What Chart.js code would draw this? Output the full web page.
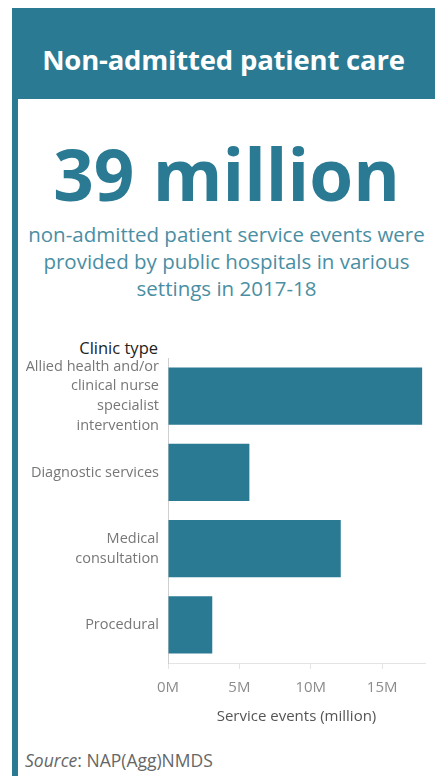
<!DOCTYPE html>
<html>
<head>
<meta charset="utf-8">
<script src="https://cdn.jsdelivr.net/npm/chart.js@4/dist/chart.umd.min.js"></script>
<style>
  html, body { margin: 0; padding: 0; background: #fff; }
  body { width: 435px; height: 776px; position: relative; overflow: hidden; font-family: "Open Sans", sans-serif; }
  #header { position: absolute; left: 12px; top: 8px; width: 423px; height: 91px; background: #2a7a93; }
  #header h1 { margin: 0; position: absolute; left: 0; right: 0; top: 36px; text-align: center; color: #fff; font-size: 27.5px; font-weight: 700; line-height: 32px; letter-spacing: -0.2px; }
  #strip { position: absolute; left: 12px; top: 99px; width: 6px; height: 677px; background: #2a7a93; }
  #big { position: absolute; left: 18px; right: 0; top: 129px; text-align: center; color: #2a7a93; font-size: 71px; font-weight: 700; line-height: 90px; }
  #sub { position: absolute; left: 18px; right: 0; top: 221px; text-align: center; color: #4a8ea3; font-size: 20.5px; line-height: 27px; }
  #clinic { position: absolute; right: 277px; top: 337px; color: #222; font-size: 16.5px; line-height: 22px; }
  #source { position: absolute; left: 25px; top: 749px; color: #666; font-size: 17.5px; line-height: 22px; }
  #wrap { position: absolute; left: 0; top: 350px; width: 435px; height: 377px; }
</style>
</head>
<body>
<div id="header"><h1>Non-admitted patient care</h1></div>
<div id="strip"></div>
<div id="big">39 million</div>
<div id="sub">non-admitted patient service events were<br>provided by public hospitals in various<br>settings in 2017-18</div>
<div id="clinic">Clinic type</div>
<div id="wrap"><canvas id="c"></canvas></div>
<div id="source"><i>Source</i>: NAP(Agg)NMDS</div>
<script>
// Clinic types (multi-line labels) and service events in millions, 2017-18
const clinicTypes = [
  ["Allied health and/or", "clinical nurse", "specialist", "intervention"],
  "Diagnostic services",
  ["Medical", "consultation"],
  "Procedural"
];
const serviceEvents = [17.8, 5.7, 12.1, 3.1];
const xTickValues = [0, 5, 10, 15];

const teal = "#2a7a93";

new Chart(document.getElementById("c"), {
  type: "bar",
  data: {
    labels: clinicTypes,
    datasets: [{
      data: serviceEvents,
      backgroundColor: teal,
      borderWidth: 0,
      barPercentage: 0.75,
      categoryPercentage: 1
    }]
  },
  options: {
    indexAxis: "y",
    responsive: true,
    maintainAspectRatio: false,
    animation: false,
    layout: { padding: { top: 8, right: 10, bottom: 0, left: 0 } },
    plugins: { legend: { display: false }, tooltip: { enabled: false } },
    scales: {
      x: {
        min: 0,
        max: 18,
        afterBuildTicks: (scale) => { scale.ticks = xTickValues.map(v => ({ value: v })); },
        afterFit: (scale) => { scale.height = 64; scale.paddingLeft = 0; scale.paddingRight = 0; },
        grid: { drawOnChartArea: false, drawTicks: true, tickLength: 6, color: "#e4e4e4" },
        border: { display: true, color: "#e4e4e4" },
        ticks: {
          padding: 10,
          color: "#8c8c8c",
          font: { family: "Open Sans", size: 15 },
          callback: (v) => v + "M"
        },
        title: {
          display: true,
          text: "Service events (million)",
          color: "#555",
          font: { family: "Open Sans", size: 15, lineHeight: 1.4 },
          padding: { top: 0, bottom: 0 }
        }
      },
      y: {
        afterFit: (scale) => { scale.width = 168; scale.paddingTop = 0; scale.paddingBottom = 0; },
        grid: { display: false, drawTicks: false },
        border: { display: true, color: "#cfcfcf", dash: [2, 2] },
        ticks: {
          autoSkip: false,
          padding: 9,
          color: "#777",
          font: { family: "Open Sans", size: 14.5, lineHeight: 1.35 }
        }
      }
    }
  }
});
</script>
</body>
</html>
